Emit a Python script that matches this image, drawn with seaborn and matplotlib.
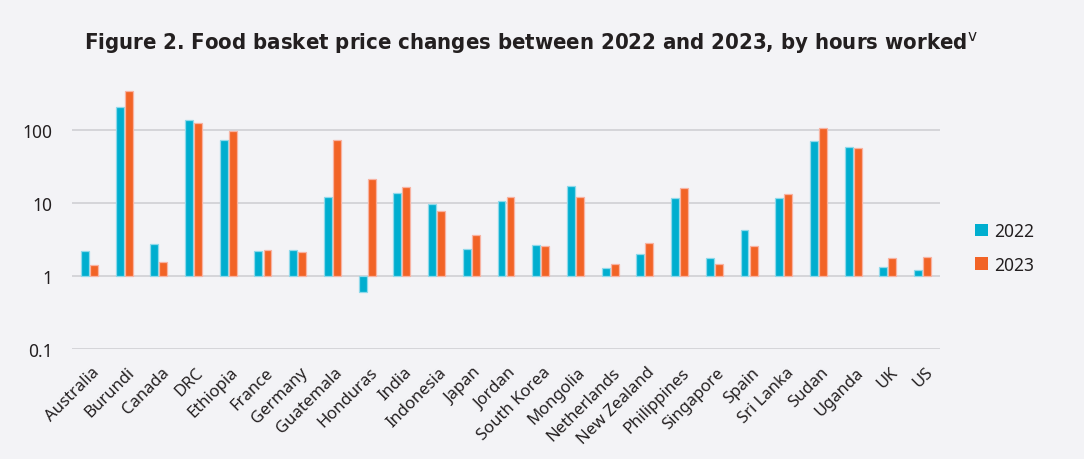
import matplotlib
matplotlib.use("Agg")
import matplotlib.pyplot as plt
import matplotlib.transforms as mtransforms
import seaborn as sns
import pandas as pd
import numpy as np
from matplotlib.patches import Patch

countries = ["Australia", "Burundi", "Canada", "DRC", "Ethiopia", "France", "Germany",
             "Guatemala", "Honduras", "India", "Indonesia", "Japan", "Jordan",
             "South Korea", "Mongolia", "Netherlands", "New Zealand", "Philippines",
             "Singapore", "Spain", "Sri Lanka", "Sudan", "Uganda", "UK", "US"]
values_2022 = [2.15, 205, 2.74, 136, 73, 2.2, 2.27, 12.0, 0.59, 13.4, 9.6, 2.32, 10.5,
               2.66, 17.1, 1.27, 1.96, 11.7, 1.73, 4.22, 11.7, 70.7, 58.5, 1.30, 1.18]
values_2023 = [1.42, 335, 1.56, 122, 96, 2.27, 2.09, 73, 21.3, 16.4, 7.77, 3.6, 12.1,
               2.58, 11.8, 1.46, 2.83, 15.9, 1.43, 2.58, 13.0, 106, 55.5, 1.73, 1.78]
years = ["2022", "2023"]
colors = {"2022": "#00AECF", "2023": "#F26326"}
edges = {"2022": "#8FD9EA", "2023": "#F8B3A2"}

df = pd.DataFrame({
    "country": countries * 2,
    "year": [years[0]] * len(countries) + [years[1]] * len(countries),
    "value": values_2022 + values_2023,
})
# bars grow from the baseline at 1 on the log axis
df["height"] = df["value"] - 1

bg = "#F3F3F6"
sns.set_theme(style="white")
plt.rcParams["font.family"] = ["Noto Sans", "DejaVu Sans"]

fig = plt.figure(figsize=(10.84, 4.6), dpi=100, facecolor=bg)
ax = fig.add_axes([72 / 1084, 1 - 349.7 / 460, (940 - 72) / 1084, (349.7 - 79.7) / 460])
ax.set_facecolor(bg)

sns.barplot(data=df, x="country", y="height", hue="year", order=countries,
            hue_order=years, palette=colors, saturation=1, errorbar=None,
            width=0.52, gap=0.12, bottom=1, linewidth=0.9, ax=ax, legend=False)

for cont, yr in zip(ax.containers, years):
    for bar in cont:
        bar.set_edgecolor(edges[yr])

ax.set_yscale("log")
ax.set_ylim(0.1, 500)
ax.set_xlim(-0.5, len(countries) - 0.5)
ax.set_yticks([0.1, 1, 10, 100])
ax.set_yticklabels(["0.1", "1", "10", "100"])
ax.yaxis.set_minor_locator(matplotlib.ticker.NullLocator())
ax.grid(axis="y", color="#D5D5D9", linewidth=1.4)
ax.set_axisbelow(True)
for s in ax.spines.values():
    s.set_visible(False)
ax.set_xlabel("")
ax.set_ylabel("")
ax.tick_params(axis="y", length=0, pad=14, labelsize=12.5, labelcolor="#231F20")
ax.tick_params(axis="x", length=0, pad=11, labelsize=12, labelcolor="#231F20")
offset = mtransforms.ScaledTranslation(2 / 100, 0, fig.dpi_scale_trans)
for lab in ax.get_xticklabels():
    lab.set_rotation(45)
    lab.set_ha("right")
    lab.set_rotation_mode("anchor")
    lab.set_transform(lab.get_transform() + offset)

handles = [Patch(facecolor=colors[y], edgecolor="none", label=y) for y in years]
fig.legend(handles=handles, loc="center left", bbox_to_anchor=(966 / 1084, 1 - 249 / 460),
           frameon=False, fontsize=12.5, handlelength=0.75, handleheight=0.75,
           handletextpad=0.35, labelspacing=0.9, borderpad=0, labelcolor="#231F20")

fig.text(531 / 1084, 1 - 43 / 460,
         "Figure 2. Food basket price changes between 2022 and 2023, by hours worked$^{\\mathrm{v}}$",
         ha="center", va="center", fontsize=15.8, fontweight="bold", color="#231F20",
         family="DejaVu Sans", fontstretch="condensed")

fig.savefig("out.png", dpi=100, facecolor=bg)
